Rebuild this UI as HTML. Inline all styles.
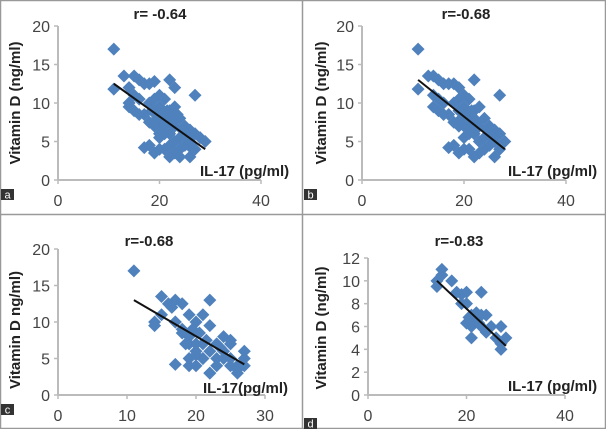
<!DOCTYPE html>
<html><head><meta charset="utf-8">
<style>
html,body{margin:0;padding:0;background:#fff;}
svg{display:block;font-family:"Liberation Sans",sans-serif;}
.tk{font-size:16px;fill:#444;}
.tt{font-size:15px;font-weight:bold;fill:#222;}
</style></head>
<body>
<svg id="fig" width="606" height="429" viewBox="0 0 606 429" xmlns="http://www.w3.org/2000/svg">
<rect x="0.5" y="0.5" width="605" height="428" fill="#fff" stroke="#999" stroke-width="1.5"/>
<line x1="302.5" y1="0" x2="302.5" y2="429" stroke="#999" stroke-width="1.5"/>
<line x1="0" y1="214.5" x2="606" y2="214.5" stroke="#999" stroke-width="1.5"/>
</svg>
<script>
const xA=[11,11,13,15,16,17,18,19,14,15,16,14,14,15,16,17,18,19,20,21,20,19,18,19,20,21,22,23,22,23,27,22,24,25,26,27,28,29,27,26,24,23,22,21,20,19,17,20,21,22,23,24,25,26,21,23,25,18,20.5,21.5,22.5,23.5,24.5,19.5,18.5,25.5,26.5,22,20,24];
const yA=[17,11.8,13.5,13.5,13,12.5,12.5,12.8,12,11,10.5,10,9.5,9,8.5,8.5,10,10.5,11,10.5,9.5,9,7.5,7,7,8,9,9.5,13,12,11,8,8,7,6.5,6,5.5,5,4,3,4,3.5,3,4,4,3.5,4.2,5.5,6,6,5,5.5,4.5,5,7,7,6,4.5,8.5,9,7.5,8.5,6.5,8,9,5.5,4,4.5,6,3];
const xB=[11,11,13,14,15,16,17,18,19,14,15,16,14,15,16,17,18,19,20,21,20,19,18,19,20,21,22,23,22,27,22,24,25,26,27,28,27,26,24,23,22,21,20,19,17,20,21,22,23,24,25,26,21,23,25,18,20.5,21.5,22.5,24.5,19.5,25.5];
const yB=[17,11.8,13.5,13.5,13,12.5,12.5,12.5,12,11,10.5,10,9.5,9,8.5,8.5,10,10.5,11,10.5,9.5,9,7.5,7,7,8,9,9.5,13,11,8,8,7,6.5,6,5,4,3,4,3.5,3,4,4,3.5,4.2,5.5,6,6,5,5.5,4.5,5,7,7,6,4.5,8.5,9,7.5,6.5,8,5.5];
const xC=[11,14,15,16,16.5,17,18,22,17,18,19,20,21,19,18,17,15,14,19,20,21,22,23,24,25,22,21,20,19,23,24,25,26,27,27,26,25,24,23,22,21,20,19,17,22,20,26,27,25,20.5,21.5,23.5,19.5,18.5];
const yC=[17,10,13.5,12.5,12,13,12.5,13,10,9,11,10,11,8,8.5,10,11,9.5,5,4,5,6,7,8,7,9.5,7,6,7,5,6,5,4,5,6,3,4,5,4,3,5,7,4,4.2,3,5.5,3.5,4,7.5,8.5,7.5,6.5,9,7];
const xD=[14,14,15,15,17,18,19,19,20,20,21,20,21,22,21,22,23,23,24,24,25,26,27,27,27,28,22,23,20.5,22.5];
const yD=[9.5,10,10.5,11,10,9,8,8.8,9,8,7,6.3,6,6.5,5,7,9,6,7,5.5,6,5,4.5,4,6,5,7.2,7,6.8,6.3];
const rLabels=["r=  -0.64","r=-0.68","r=-0.68","r=-0.83"];
const panelLetters=["a","b","c","d"];
const ticksAB=[0,20,40], ticksC=[0,10,20,30], yTicks20=[0,5,10,15,20], yTicks12=[0,2,4,6,8,10,12];
const trendA=[[11,12.5],[29,4]], trendB=[[11,13],[28,4]], trendC=[[11,13],[27,4.2]], trendD=[[14,10],[28,4.3]];

const NS="http://www.w3.org/2000/svg";
const svg=document.getElementById('fig');
function mk(tag,attrs,parent){const e=document.createElementNS(NS,tag);for(const k in attrs)e.setAttribute(k,attrs[k]);(parent||svg).appendChild(e);return e;}

const panels=[
 {xs:xA,ys:yA,tr:trendA,x0:58,xmax:40,xpx:203,y0:180,ymax:20,ypx:154,xt:ticksAB,yt:yTicks20,title:0,tx:160,ty:19,ytx:20,yty:103,ylab:"Vitamin D (ng/ml)",xlab:"IL-17 (pg/ml)",xlx:200,xly:176,lx:0,ly:189},
 {xs:xB,ys:yB,tr:trendB,x0:362,xmax:40,xpx:204,y0:180,ymax:20,ypx:154,xt:ticksAB,yt:yTicks20,title:1,tx:466,ty:19,ytx:326,yty:103,ylab:"Vitamin D (ng/ml)",xlab:"IL-17 (pg/ml)",xlx:508,xly:176,lx:303,ly:189},
 {xs:xC,ys:yC,tr:trendC,x0:58,xmax:30,xpx:207,y0:395,ymax:20,ypx:146,xt:ticksC,yt:yTicks20,title:2,tx:149,ty:246,ytx:20,yty:330,ylab:"Vitamin D ng/ml)",xlab:"IL-17(pg/ml)",xlx:203,xly:393,lx:0,ly:404},
 {xs:xD,ys:yD,tr:trendD,x0:368,xmax:40,xpx:197,y0:395,ymax:12,ypx:137,xt:ticksAB,yt:yTicks12,title:3,tx:459,ty:246,ytx:326,yty:328,ylab:"Vitamin D (ng/ml)",xlab:"IL-17 (pg/ml)",xlx:508,xly:391,lx:303,ly:418}
];

panels.forEach((p,i)=>{
 const g=mk('g',{});
 
 
 const sx=v=>p.x0+v/p.xmax*p.xpx;
 const sy=v=>p.y0-v/p.ymax*p.ypx;
 const ya=mk('line',{x1:p.x0,y1:sy(p.ymax),x2:p.x0,y2:p.y0,stroke:'#bbb','stroke-width':2},g);
 
 
 const xa=mk('line',{x1:p.x0,y1:p.y0,x2:sx(p.xmax),y2:p.y0,stroke:'#bbb','stroke-width':2},g);
 
 
 p.yt.forEach(v=>{
  mk('line',{x1:p.x0-4,y1:sy(v),x2:p.x0,y2:sy(v),stroke:'#bbb','stroke-width':1.5},g);
  const t=mk('text',{x:p.x0-8,y:sy(v)+6,'text-anchor':'end',class:'tk'},g);
  t.textContent=v;
  
  
 });
 p.xt.forEach(v=>{
  mk('line',{x1:sx(v),y1:p.y0,x2:sx(v),y2:p.y0+4,stroke:'#bbb','stroke-width':1.5},g);
  const t=mk('text',{x:sx(v),y:p.y0+26,'text-anchor':'middle',class:'tk'},g);
  t.textContent=v;
  
  
 });
 p.xs.forEach((xv,k)=>{
  const cx=sx(xv),cy=sy(p.ys[k]),r=6.5;
  const d=mk('polygon',{points:`${cx},${cy-r} ${cx+r},${cy} ${cx},${cy+r} ${cx-r},${cy}`,fill:'#4f81bd'},g);
  
  
 });
 const tl=mk('line',{x1:sx(p.tr[0][0]),y1:sy(p.tr[0][1]),x2:sx(p.tr[1][0]),y2:sy(p.tr[1][1]),stroke:'#111','stroke-width':2},g);
 
 
 const tt=mk('text',{x:p.tx,y:p.ty,'text-anchor':'middle',class:'tt'},g);
 tt.textContent=rLabels[p.title];
 
 
 const yl=mk('text',{x:p.ytx,y:p.yty,'text-anchor':'middle',class:'tt',transform:`rotate(-90 ${p.ytx} ${p.yty})`},g);
 yl.textContent=p.ylab;
 
 
 const xl=mk('text',{x:p.xlx,y:p.xly,class:'tt'},g);
 xl.textContent=p.xlab;
 
 
 const lb=mk('rect',{x:p.lx+1,y:p.ly,width:13,height:11,fill:'#333'},g);
 
 
 const lt=mk('text',{x:p.lx+7.5,y:p.ly+9.5,'text-anchor':'middle','font-size':'11',fill:'#fff'},g);
 lt.textContent=panelLetters[i];
 
 
});
</script>
</body></html>
